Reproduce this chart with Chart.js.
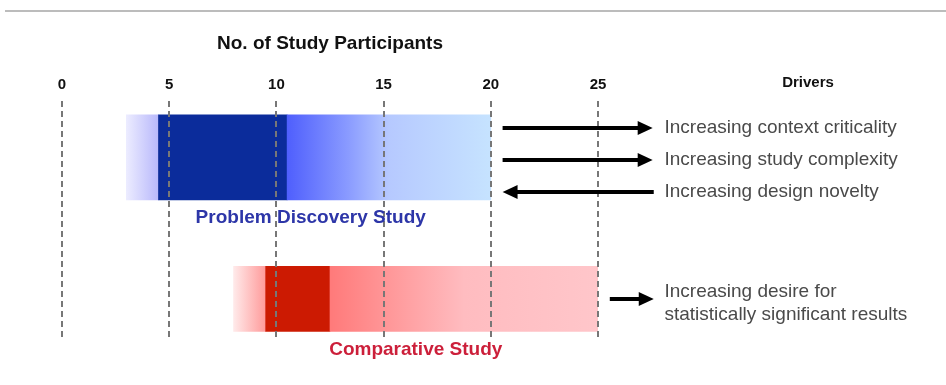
<!DOCTYPE html>
<html>
<head>
<meta charset="utf-8">
<script src="https://cdn.jsdelivr.net/npm/chart.js@4/dist/chart.umd.min.js"></script>
<style>
  body { margin: 0; background: #fff; }
  #wrap { width: 946px; height: 385px; }
</style>
</head>
<body>
<div id="wrap"><canvas id="myChart"></canvas></div>
<script>
// study bars: participants range
const studies = ['Problem Discovery Study', 'Comparative Study'];
const studyRow = [1, 2];
const tailStart = [3, 8];
const coreStart = [4.5, 9.5];
const coreEnd = [10.5, 12.5];
const fadeEnd = [20, 25];
const labelAt = [11.6, 16.5];

// drivers on the right
const driverLabels = [
  ['Increasing context criticality'],
  ['Increasing study complexity'],
  ['Increasing design novelty'],
  ['Increasing desire for', 'statistically significant results']
];
const driverRow = [0.79, 1.015, 1.241, 2.0];
const textRow = [0.79, 1.015, 1.241, 2.03];
const arrowFrom = [20.55, 20.55, 27.6, 25.55];
const arrowTo = [27.55, 27.55, 20.55, 27.6];
const textAt = 28.1;

const FONT = '"Liberation Sans", Arial, sans-serif';

const palette = {
  blue: { tail: ['#ececff', '#b8b8fb'], core: '#0b2c9b', fade: ['#4f5ffd', '#8a9bff', '#b6c9ff', '#c6e3ff'], text: '#2d36a8' },
  red: { tail: ['#ffeaea', '#ff9a9a'], core: '#cc1a02', fade: ['#ff7a7a', '#ffa2a4', '#ffbcc0', '#ffc6ca'], text: '#cc1f3a' }
};

function segColor(ctx, pal, i) {
  const chart = ctx.chart;
  if (!chart.chartArea) return pal.core;
  const x = chart.scales.x;
  const seg = ctx.dataIndex;
  if (seg === 1) return pal.core;
  const c = chart.ctx;
  if (seg === 0) {
    const g = c.createLinearGradient(x.getPixelForValue(tailStart[i]), 0, x.getPixelForValue(coreStart[i]), 0);
    g.addColorStop(0, pal.tail[0]);
    g.addColorStop(1, pal.tail[1]);
    return g;
  }
  const g = c.createLinearGradient(x.getPixelForValue(coreEnd[i]), 0, x.getPixelForValue(fadeEnd[i]), 0);
  g.addColorStop(0, pal.fade[0]);
  g.addColorStop(0.3, pal.fade[1]);
  g.addColorStop(0.5, pal.fade[2]);
  g.addColorStop(1, pal.fade[3]);
  return g;
}

function studyData(i) {
  return [
    { x: [tailStart[i], coreStart[i]], y: studyRow[i] },
    { x: [coreStart[i], coreEnd[i]], y: studyRow[i] },
    { x: [coreEnd[i], fadeEnd[i]], y: studyRow[i] }
  ];
}

const decorations = {
  id: 'decorations',
  beforeDraw(chart) {
    const c = chart.ctx;
    c.save();
    c.strokeStyle = '#bcbcbc';
    c.lineWidth = 2;
    c.beginPath();
    c.moveTo(5, 11);
    c.lineTo(chart.width, 11);
    c.stroke();
    c.restore();
  },
  afterDraw(chart) {
    const c = chart.ctx;
    const x = chart.scales.x, y = chart.scales.y;
    c.save();
    // heading
    c.fillStyle = '#111';
    c.font = 'bold 15px ' + FONT;
    c.textAlign = 'center';
    c.textBaseline = 'middle';
    c.fillText('Drivers', 808, 83);

    // study labels
    c.font = 'bold 19px ' + FONT;
    [0, 1].forEach((i) => {
      const bar = chart.getDatasetMeta(i).data[0];
      const pal = i === 0 ? palette.blue : palette.red;
      c.fillStyle = pal.text;
      c.fillText(studies[i], x.getPixelForValue(labelAt[i]), bar.y + bar.height / 2 + 18);
    });

    // arrows + driver text
    driverLabels.forEach((lines, i) => {
      const py = Math.round(y.getPixelForValue(driverRow[i]));
      const x0 = x.getPixelForValue(arrowFrom[i]);
      const x1 = x.getPixelForValue(arrowTo[i]);
      const dir = Math.sign(x1 - x0);
      c.strokeStyle = '#000';
      c.fillStyle = '#000';
      c.lineWidth = 4;
      c.beginPath();
      c.moveTo(x0, py);
      c.lineTo(x1 - dir * 10, py);
      c.stroke();
      c.beginPath();
      c.moveTo(x1, py);
      c.lineTo(x1 - dir * 15, py - 7);
      c.lineTo(x1 - dir * 15, py + 7);
      c.closePath();
      c.fill();

      c.fillStyle = '#4a4a4a';
      c.font = '19px ' + FONT;
      c.textAlign = 'left';
      const tx = x.getPixelForValue(textAt);
      const ty = y.getPixelForValue(textRow[i]);
      const lh = 23;
      lines.forEach((t, k) => {
        c.fillText(t, tx, ty + (k - (lines.length - 1) / 2) * lh);
      });
    });
    c.restore();
  }
};

new Chart(document.getElementById('myChart'), {
  type: 'bar',
  data: {
    datasets: [
      {
        label: studies[0],
        data: studyData(0),
        backgroundColor: (ctx) => segColor(ctx, palette.blue, 0),
        barThickness: 85,
        grouped: false,
        borderWidth: 0,
        borderSkipped: false
      },
      {
        label: studies[1],
        data: studyData(1),
        backgroundColor: (ctx) => segColor(ctx, palette.red, 1),
        barThickness: 65,
        grouped: false,
        borderWidth: 0,
        borderSkipped: false
      }
    ]
  },
  options: {
    indexAxis: 'y',
    responsive: true,
    maintainAspectRatio: false,
    animation: false,
    layout: { padding: { left: 62, right: 348, top: 30, bottom: 45 } },
    plugins: { legend: { display: false }, tooltip: { enabled: false } },
    scales: {
      x: {
        type: 'linear',
        position: 'top',
        min: 0,
        max: 25,
        ticks: {
          stepSize: 5,
          padding: 7,
          color: '#111',
          font: { family: FONT, size: 15, weight: 'bold' }
        },
        grid: { color: '#777', lineWidth: 2, drawTicks: false, z: 1 },
        border: { display: false, dash: [6, 4] },
        title: {
          display: true,
          text: 'No. of Study Participants',
          color: '#111',
          padding: { top: 2, bottom: 14 },
          font: { family: FONT, size: 19, weight: 'bold' }
        }
      },
      y: {
        type: 'linear',
        display: false,
        reverse: true,
        offset: false,
        min: 0.6,
        max: 2.29
      }
    }
  },
  plugins: [decorations]
});
</script>
</body>
</html>
